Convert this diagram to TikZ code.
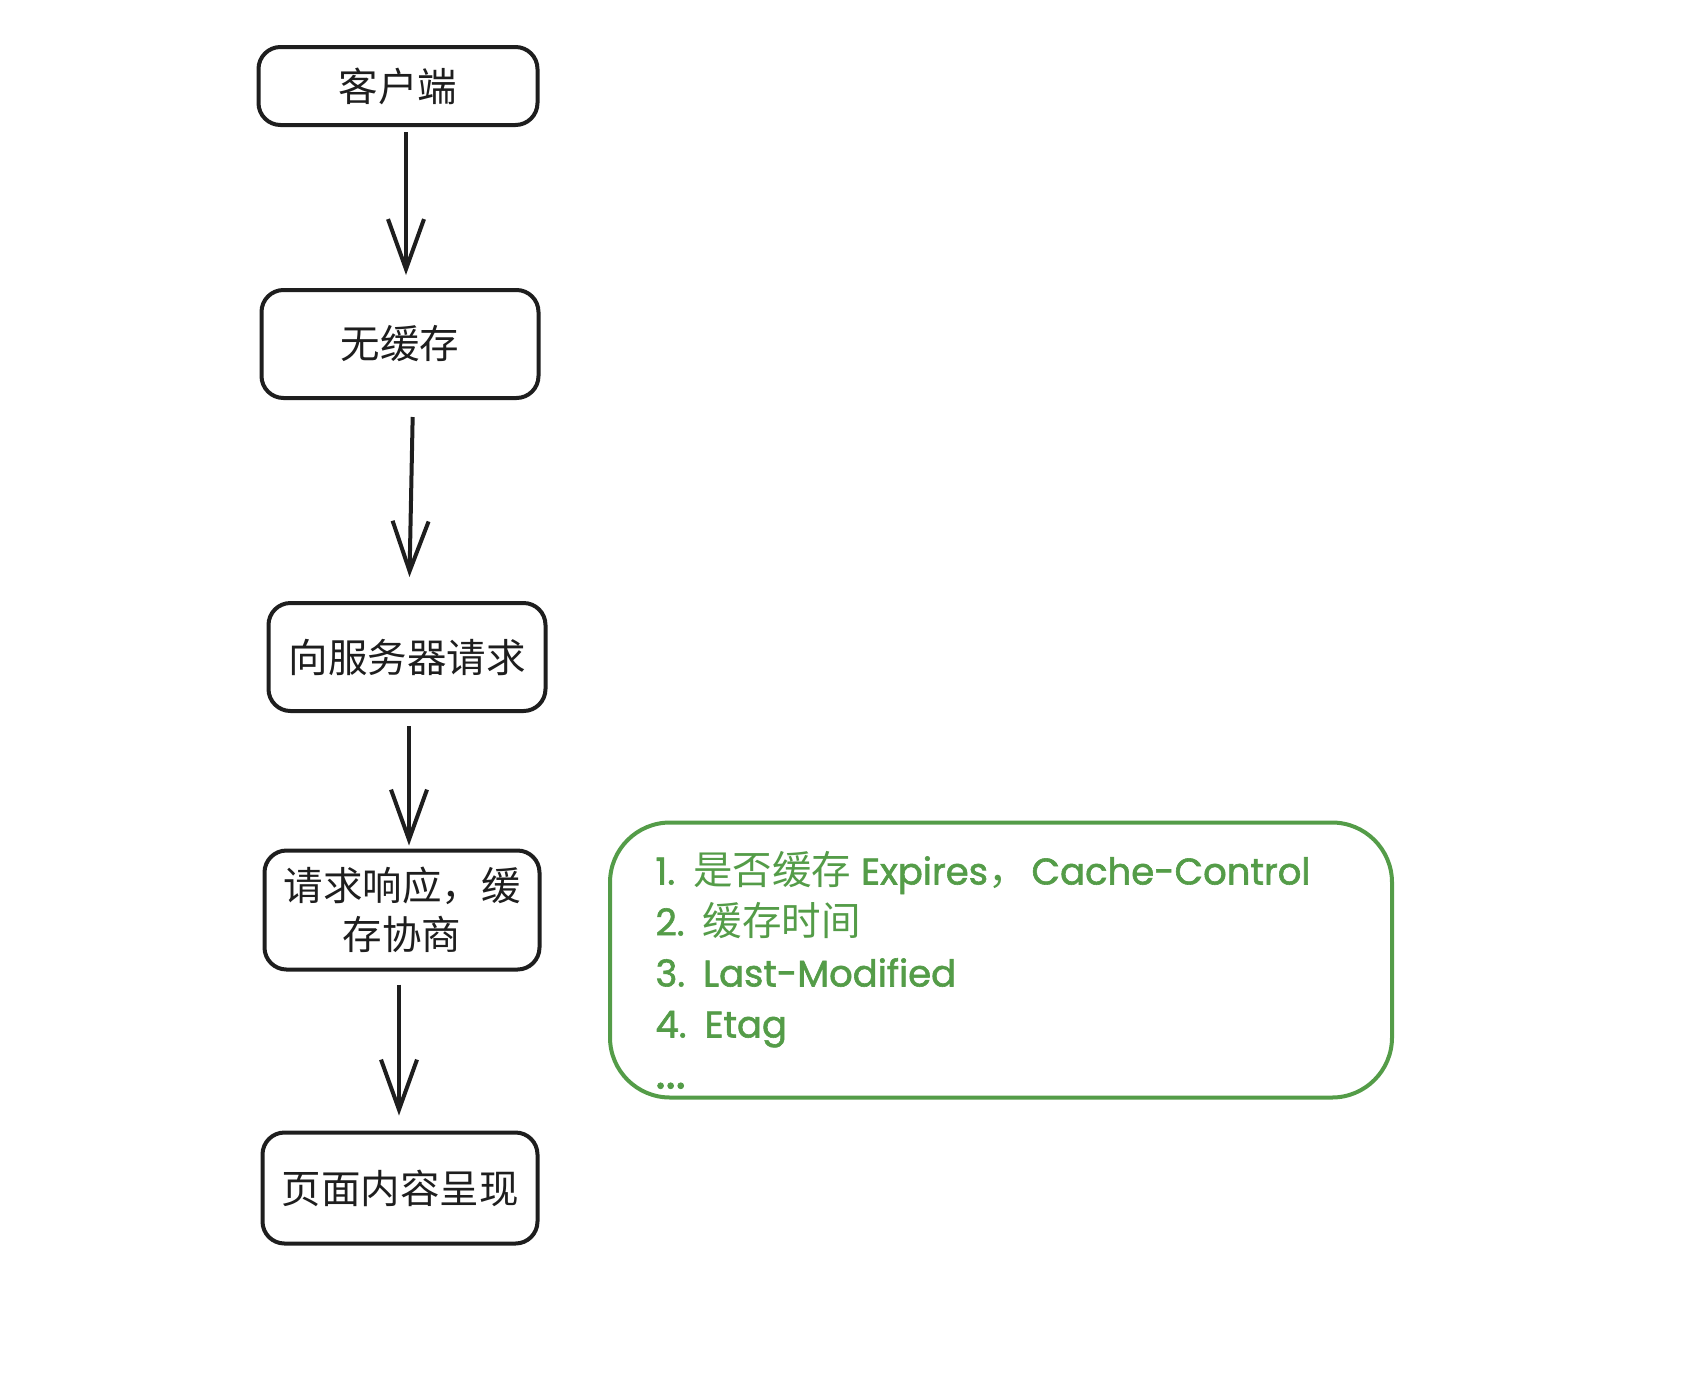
\documentclass[tikz,border=0pt]{standalone}
\usepackage{fontspec}
\setmainfont{Noto Sans CJK SC}
\newfontfamily\hand[FakeBold=1.6]{Poppins}
\usepackage{xcolor}
\usepackage{tikz}
\usetikzlibrary{arrows.meta,positioning}
\definecolor{cblack}{RGB}{30,30,30}
\definecolor{cgreen}{RGB}{84,156,72}
\newcommand{\lt}[1]{{\hand\fontsize{37}{51}\selectfont #1}}
\newcommand{\num}[1]{\lt{#1}\hspace{18pt}}
\tikzset{
  box/.style  ={rectangle, rounded corners=22pt, draw=cblack, line width=4pt,
                fill=white, align=center, inner sep=0pt,
                font=\fontsize{39.5}{49}\selectfont, text=cblack},
  note/.style ={rectangle, rounded corners=60pt, draw=cgreen, line width=4pt,
                inner sep=0pt},
  ar/.style   ={-{Straight Barb[length=50pt,width=36pt,line width=4pt]},
                draw=cblack, line width=4pt},
  lbl/.style  ={align=left, anchor=west, text=cgreen,
                font=\fontsize{39.5}{51}\selectfont}
}
\begin{document}
\begin{tikzpicture}[x=1pt,y=-1pt]
\useasboundingbox (0,0) rectangle (1694,1374);
\node[box, minimum width=279pt, minimum height=78pt]  (client) at (398,86)   {客户端};
\node[box, minimum width=277pt, minimum height=108pt] (nocache) at (400,344) {无缓存};
\node[box, minimum width=277pt, minimum height=108pt] (req) at (407,657)     {向服务器请求};
\node[box, minimum width=275pt, minimum height=119pt] (resp) at (402,910)
  {请求响应，缓\\存协商};
\node[box, minimum width=275pt, minimum height=111pt] (page) at (400,1188)   {页面内容呈现};
\node[note, minimum width=782pt, minimum height=275pt] (neg) at (1001,960) {};
\node[lbl] (items) at (652,970)
  {\num{1.}是否缓存\hspace{10pt}\lt{Expires}，\hspace{4pt}\lt{Cache-Control}\\
   \num{2.}缓存时间\\
   \num{3.}\lt{Last-Modified}\\
   \num{4.}\lt{Etag}\\
   {\hand\fontsize{48}{51}\selectfont ...}};
\draw[ar, shorten <=5pt, shorten >=13pt] ([xshift=8pt]client.south) -- ([xshift=6pt]nocache.north);
\draw[ar, shorten <=17pt, shorten >=24pt] ([xshift=13pt]nocache.south) -- ([xshift=2pt]req.north);
\draw[ar, shorten <=13pt, shorten >=3pt] ([xshift=2pt]req.south) -- ([xshift=7pt]resp.north);
\draw[ar, shorten <=13pt, shorten >=15pt] ([xshift=-3pt]resp.south) -- ([xshift=-1pt]page.north);
\end{tikzpicture}
\end{document}
